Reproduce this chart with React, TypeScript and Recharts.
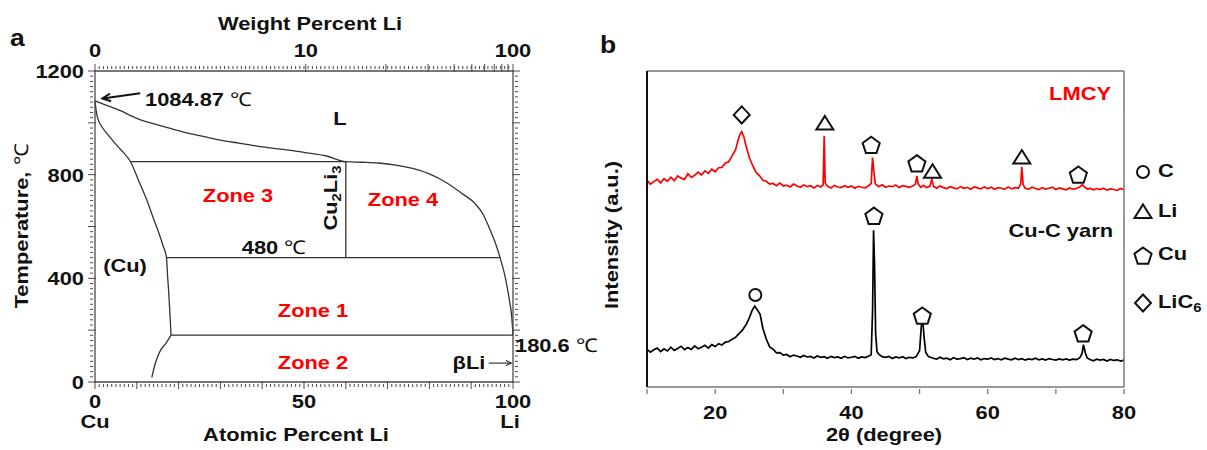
import React from 'react';
import { ComposedChart, Line, XAxis, YAxis, Scatter, ReferenceLine } from 'recharts';

const FONT = '"Liberation Sans", Arial, Helvetica, sans-serif';
const RED = '#ff0000';
const INK = '#111111';
const FRAME = '#4a4a4a';
const SX = 1.15; // lettering in the figure is a little wider than Arial

// ---------- panel a : Cu-Li phase diagram (atomic % Li, temperature in C) ----------
const liquidusAt = [0, 2, 5.8, 10, 16.5, 21, 26.4, 30, 34.7, 40, 46.3, 50, 55.4, 60, 64, 67.8, 72, 76, 80, 84.3, 88, 90.9, 92.8, 94.2, 95.7, 96.9, 98.2, 99.1, 99.7, 100];
const liquidusT = [1084.87, 1072, 1049, 1017, 985, 965, 946, 933, 921, 907, 895, 886, 872, 850, 848, 845, 837, 824, 803, 767, 725, 689, 648, 599, 540, 480, 400, 320, 250, 180.6];
const solvusAt = [0, 0.1, 0.25, 0.7, 1.65, 2.8, 4.1, 5.5, 7.0, 8.5, 10.5, 12.4, 14.0, 15.3, 16.3, 17.1, 17.4, 17.6, 17.9, 18.2];
const solvusT = [1084.87, 1070, 1049, 1015, 985, 960, 934, 908, 882, 850, 775, 702, 630, 574, 525, 480, 400, 355, 270, 180.6];
const lowSolvusAt = [13.6, 14.2, 14.8, 15.7, 17.0, 18.2];
const lowSolvusT = [18, 59, 90, 123, 150, 180.6];
const peritecticAt = [8.5, 60];
const peritecticT = [850, 850];
const cu2li3At = [60, 60];
const cu2li3T = [850, 480];
const eutecticAt = [17.1, 96.9];
const eutecticT = [480, 480];
const monotecticAt = [18.2, 100];
const monotecticT = [180.6, 180.6];

const tempTicks = Array.from({ length: 61 }, (_, i) => i * 20);
const tempLabels = [0, 400, 800, 1200];
const atTicks = Array.from({ length: 101 }, (_, i) => i);
const atLabels = [0, 50, 100];
const wtMajors = [0, 10, 20, 30, 40, 50, 60, 70, 80, 90, 100];
const wtLabels = [0, 10, 100];

// ---------- panel b : XRD patterns (2 theta, intensity a.u.) ----------
const lmcy: [number, number][] = [
  [10, 65.4], [10.5, 64.2], [11, 65.0], [11.5, 65.7], [12, 64.6], [12.5, 65.9], [13, 65.1], [13.5, 66.4], [14, 65.3], [14.5, 66.8],
  [15, 66.1], [15.5, 65.7], [16, 67.5], [16.5, 66.3], [17, 67.0], [17.5, 68.0], [18, 67.1], [18.5, 68.4], [19, 67.6], [19.5, 68.9],
  [20, 68.1], [20.5, 69.4], [21, 69.5], [21.5, 70.9], [22, 71.3], [22.5, 73.2], [23, 75.1], [23.3, 77.6], [23.6, 79.7], [23.9, 80.8],
  [24.2, 79.3], [24.5, 76.6], [25, 72.7], [25.5, 70.1], [26, 67.9], [26.5, 66.9], [27, 65.4], [27.5, 65.1], [28, 64.2], [28.5, 64.4],
  [29, 63.7], [29.5, 64.5], [30, 63.6], [30.5, 63.9], [31, 63.3], [31.5, 64.2], [32, 63.6], [32.5, 63.2], [33, 63.9], [33.5, 63.4],
  [34, 63.7], [34.5, 63.0], [35, 63.8], [35.5, 63.3], [35.85, 64.0], [36.0, 79.4], [36.15, 64.6], [36.5, 63.5], [37, 63.0], [37.5, 63.8],
  [38, 63.3], [38.5, 63.1], [39, 63.7], [39.5, 63.2], [40, 63.6], [40.5, 62.9], [41, 63.5], [41.5, 63.2], [42, 63.0], [42.5, 63.7],
  [42.9, 64.4], [43.1, 72.6], [43.3, 68.0], [43.5, 64.3], [44, 63.4], [44.5, 64.0], [45, 63.2], [45.5, 63.6], [46, 63.4], [46.5, 63.9],
  [47, 63.1], [47.5, 63.7], [48, 63.5], [48.5, 63.2], [49, 63.6], [49.4, 64.2], [49.6, 66.8], [49.8, 64.2], [50.2, 63.2], [50.6, 63.8],
  [51, 63.1], [51.5, 63.5], [51.8, 65.7], [52.05, 63.5], [52.5, 62.9], [53, 63.6], [53.5, 63.1], [54, 62.8], [54.5, 63.4], [55, 63.0],
  [55.5, 62.7], [56, 63.4], [56.5, 62.9], [57, 63.2], [57.5, 62.6], [58, 63.3], [58.5, 63.0], [59, 62.7], [59.5, 63.3], [60, 62.8],
  [60.5, 63.2], [61, 62.6], [61.5, 63.1], [62, 62.9], [62.5, 62.6], [63, 63.3], [63.5, 62.7], [64, 63.1], [64.5, 62.9], [64.85, 64.3],
  [65.0, 69.6], [65.2, 64.0], [65.5, 62.9], [66, 62.6], [66.5, 63.2], [67, 62.8], [67.5, 62.5], [68, 63.1], [68.5, 62.6], [69, 62.9],
  [69.5, 63.2], [70, 62.5], [70.5, 63.0], [71, 62.7], [71.5, 62.4], [72, 63.0], [72.5, 62.6], [73, 62.8], [73.5, 63.3], [73.9, 64.0],
  [74.3, 63.1], [74.7, 62.6], [75, 62.9], [75.5, 62.4], [76, 62.8], [76.5, 62.5], [77, 62.9], [77.5, 62.3], [78, 62.7], [78.5, 62.5],
  [79, 62.2], [79.5, 62.8], [80, 62.4],
];
const cuCYarn: [number, number][] = [
  [10, 11.9], [10.5, 11.0], [11, 11.8], [11.5, 12.3], [12, 11.2], [12.5, 12.1], [13, 11.4], [13.5, 12.6], [14, 11.6], [14.5, 12.2],
  [15, 12.9], [15.5, 11.8], [16, 12.5], [16.5, 11.9], [17, 13.0], [17.5, 12.1], [18, 12.6], [18.5, 13.2], [19, 12.3], [19.5, 13.4],
  [20, 12.8], [20.5, 13.7], [21, 13.3], [21.5, 14.2], [22, 14.4], [22.5, 15.1], [23, 15.7], [23.5, 16.9], [24, 18.0], [24.5, 19.6],
  [25, 21.8], [25.4, 24.1], [25.8, 25.6], [26.2, 24.4], [26.6, 23.0], [27, 18.6], [27.5, 15.2], [28, 12.7], [28.5, 12.0], [29, 10.8],
  [29.5, 10.9], [30, 10.1], [30.5, 10.3], [31, 9.6], [31.5, 10.1], [32, 9.8], [32.5, 9.4], [33, 10.0], [33.5, 9.5], [34, 9.7],
  [34.5, 9.2], [35, 9.8], [35.5, 9.4], [36, 9.6], [36.5, 9.1], [37, 9.7], [37.5, 9.3], [38, 9.5], [38.5, 9.1], [39, 9.7],
  [39.5, 9.2], [40, 9.4], [40.5, 9.7], [41, 9.1], [41.5, 9.5], [42, 9.3], [42.5, 9.7], [42.9, 10.2], [43.1, 24], [43.25, 49.6],
  [43.4, 38], [43.55, 17], [43.75, 11.2], [44, 10.4], [44.5, 9.6], [45, 9.4], [45.5, 9.7], [46, 9.0], [46.5, 9.5], [47, 9.2],
  [47.5, 9.6], [48, 9.0], [48.5, 9.4], [49, 9.2], [49.5, 9.6], [50, 11.5], [50.25, 19], [50.45, 22], [50.65, 16], [50.9, 11],
  [51.3, 9.6], [52, 9.1], [52.5, 8.8], [53, 9.4], [53.5, 8.9], [54, 9.1], [54.5, 8.6], [55, 9.3], [55.5, 8.8], [56, 9.0],
  [56.5, 9.3], [57, 8.7], [57.5, 9.1], [58, 8.8], [58.5, 9.2], [59, 8.6], [59.5, 9.0], [60, 8.8], [60.5, 9.2], [61, 8.7],
  [61.5, 9.0], [62, 8.6], [62.5, 9.1], [63, 8.8], [63.5, 8.6], [64, 9.1], [64.5, 8.7], [65, 9.0], [65.5, 8.5], [66, 8.9],
  [66.5, 8.7], [67, 9.1], [67.5, 8.6], [68, 8.9], [68.5, 8.5], [69, 9.0], [69.5, 8.7], [70, 8.5], [70.5, 8.9], [71, 8.6],
  [71.5, 8.9], [72, 8.5], [72.5, 8.8], [73, 8.7], [73.5, 9.2], [73.85, 10.6], [74.05, 13.4], [74.3, 11.0], [74.6, 9.2], [75, 8.7],
  [75.5, 8.3], [76, 8.8], [76.5, 8.5], [77, 8.7], [77.5, 8.2], [78, 8.7], [78.5, 8.4], [79, 8.6], [79.5, 8.2], [80, 8.5],
];

const lmcyMarkTheta = [23.9, 36.1, 42.9, 49.6, 51.9, 65.0, 73.3];
const lmcyMarkU = [86.1, 83.4, 76.8, 71.0, 68.1, 72.6, 67.4];
const lmcyMarkKind = ['diamond', 'triangle', 'pentagon', 'pentagon', 'triangle', 'triangle', 'pentagon'];
const yarnMarkTheta = [25.9, 43.3, 50.4, 74.0];
const yarnMarkU = [29.1, 54.4, 22.8, 17.2];
const yarnMarkKind = ['circle', 'pentagon', 'pentagon', 'pentagon'];
const xrdTicks = [10, 20, 30, 40, 50, 60, 70, 80];
const xrdLabels = [20, 40, 60, 80];
const legendKinds = ['circle', 'triangle', 'pentagon', 'diamond'];
const legendNames = ['C', 'Li', 'Cu', 'LiC6'];

// ---------- helpers ----------
const wtToAt = (w: number) => {
  if (w <= 0) return 0;
  if (w >= 100) return 100;
  const li = w / 6.941;
  const cu = (100 - w) / 63.546;
  return (100 * li) / (li + cu);
};
const topTicks = [...wtMajors.map(wtToAt), ...atTicks.slice(1, 100)];

const pts = (xs: number[], ys: number[]) => xs.map((at, i) => ({ at, T: ys[i] }));
const xrd = (d: [number, number][]) => d.map(([t, u]) => ({ t, u }));
const marks = (ts: number[], us: number[], ks: string[]) => ts.map((t, i) => ({ t, u: us[i], kind: ks[i] }));

const tickText = (x: number, y: number, s: string, anchor = 'middle') => (
  <text
    transform={`translate(${x},${y}) scale(${SX},1)`}
    textAnchor={anchor}
    dy="0.36em"
    fontFamily={FONT}
    fontWeight={700}
    fontSize={19}
    fill={INK}
  >
    {s}
  </text>
);

const LeftTick = (p: any) => {
  const { x, y, payload } = p;
  const v = payload.value;
  const major = v % 200 === 0;
  return (
    <g>
      <line x1={x - (major ? 5 : 3)} x2={x + (major ? 3 : 0)} y1={y} y2={y} stroke={FRAME} strokeWidth={1} />
      {tempLabels.includes(v) && tickText(x - 9, y, String(v), 'end')}
    </g>
  );
};
const RightTick = (p: any) => {
  const { x, y, payload } = p;
  const major = payload.value % 200 === 0;
  return <line x1={x - (major ? 3 : 0)} x2={x + (major ? 5 : 3)} y1={y} y2={y} stroke={FRAME} strokeWidth={1} />;
};
const BottomTick = (p: any) => {
  const { x, y, payload } = p;
  const v = payload.value;
  const major = v % 10 === 0;
  return (
    <g>
      <line x1={x} x2={x} y1={y - (major ? 3 : 0)} y2={y + (major ? 5 : 3)} stroke={FRAME} strokeWidth={1} />
      {atLabels.includes(v) && tickText(x, y + 17, String(v))}
      {v === 0 && tickText(x, y + 37, 'Cu')}
      {v === 100 && tickText(x - 3, y + 37, 'Li')}
    </g>
  );
};
const TopTick = (p: any) => {
  const { x, y, index } = p;
  if (index < wtMajors.length) {
    const w = wtMajors[index];
    return (
      <g>
        <line x1={x} x2={x} y1={y - 5} y2={y + 3} stroke={FRAME} strokeWidth={1} />
        {wtLabels.includes(w) && tickText(x, y - 19, String(w))}
      </g>
    );
  }
  return <line x1={x} x2={x} y1={y - 3} y2={y} stroke={FRAME} strokeWidth={1} />;
};
const XrdTick = (p: any) => {
  const { x, y, payload } = p;
  const v = payload.value;
  return (
    <g>
      <line x1={x} x2={x} y1={y} y2={y + 5} stroke="#777" strokeWidth={1.3} />
      {xrdLabels.includes(v) && tickText(x, y + 23, String(v))}
    </g>
  );
};

const arrowShape = (head: number, width: number) => (p: any) => {
  const { x1, y1, x2, y2 } = p;
  const a = Math.atan2(y2 - y1, x2 - x1);
  const h1x = x2 - head * Math.cos(a - 0.45);
  const h1y = y2 - head * Math.sin(a - 0.45);
  const h2x = x2 - head * Math.cos(a + 0.45);
  const h2y = y2 - head * Math.sin(a + 0.45);
  return (
    <g>
      <line x1={x1} y1={y1} x2={x2} y2={y2} stroke={INK} strokeWidth={width} />
      <polyline points={`${h1x},${h1y} ${x2},${y2} ${h2x},${h2y}`} fill="none" stroke={INK} strokeWidth={width} />
    </g>
  );
};

const Glyph = ({ kind, cx, cy }: { kind: string; cx: number; cy: number }) => {
  const st = { fill: 'white', stroke: INK, strokeWidth: 2 };
  if (kind === 'circle') return <circle cx={cx} cy={cy} r={6} {...st} />;
  if (kind === 'triangle')
    return <polygon points={`${cx},${cy - 7.5} ${cx + 8.5},${cy + 6} ${cx - 8.5},${cy + 6}`} {...st} />;
  if (kind === 'diamond')
    return <polygon points={`${cx},${cy - 8.5} ${cx + 8},${cy} ${cx},${cy + 8.5} ${cx - 8},${cy}`} {...st} />;
  const r = 9;
  const p = [0, 1, 2, 3, 4]
    .map((k) => {
      const a = (-90 + 72 * k) * (Math.PI / 180);
      return `${cx + r * Math.cos(a)},${cy + 1.5 + r * Math.sin(a)}`;
    })
    .join(' ');
  return <polygon points={p} {...st} />;
};
const markShape = (p: any) => <Glyph kind={p.payload.kind} cx={p.cx} cy={p.cy} />;

type Anchor = 'start' | 'middle' | 'end';
const Txt: React.FC<{
  x: number;
  y: number;
  anchor?: Anchor;
  color?: string;
  size?: number;
  rotate?: number;
  children: React.ReactNode;
}> = ({ x, y, anchor = 'middle', color = INK, size = 19, rotate = 0, children }) => {
  const tx = anchor === 'start' ? '0' : anchor === 'end' ? '-100%' : '-50%';
  const origin = anchor === 'start' ? 'left center' : anchor === 'end' ? 'right center' : 'center';
  return (
    <div
      style={{
        position: 'absolute',
        left: x,
        top: y,
        transform: `translate(${tx},-50%) rotate(${rotate}deg) scaleX(${SX})`,
        transformOrigin: origin,
        fontFamily: FONT,
        fontWeight: 700,
        fontSize: size,
        color,
        whiteSpace: 'nowrap',
        lineHeight: 1,
      }}
    >
      {children}
    </div>
  );
};
const Deg = () => <span style={{ fontWeight: 400 }}>℃</span>;
const Sub = ({ children }: { children: React.ReactNode }) => (
  <span style={{ fontSize: '0.68em', position: 'relative', top: '0.3em' }}>{children}</span>
);

const boundary = { dot: false, stroke: '#333', strokeWidth: 1.3, isAnimationActive: false } as const;

const PhaseDiagram = () => (
  <div style={{ position: 'absolute', left: 0, top: 0 }}>
    <ComposedChart width={560} height={450} margin={{ top: 70, right: 46, bottom: 67, left: 94 }}>
      <XAxis xAxisId="at" dataKey="at" type="number" domain={[0, 100]} ticks={atTicks} interval={0}
        height={1} tickSize={0} tickLine={false} tick={BottomTick} axisLine={{ stroke: FRAME, strokeWidth: 1.3 }} />
      <XAxis xAxisId="wt" dataKey="at" orientation="top" type="number" domain={[0, 100]} ticks={topTicks} interval={0}
        height={1} tickSize={0} tickLine={false} tick={TopTick} axisLine={{ stroke: FRAME, strokeWidth: 1.3 }} />
      <YAxis yAxisId="T" dataKey="T" type="number" domain={[0, 1200]} ticks={tempTicks} interval={0}
        width={1} tickSize={0} tickLine={false} tick={LeftTick} axisLine={{ stroke: FRAME, strokeWidth: 1.3 }} />
      <YAxis yAxisId="Tr" dataKey="T" orientation="right" type="number" domain={[0, 1200]} ticks={tempTicks} interval={0}
        width={1} tickSize={0} tickLine={false} tick={RightTick} axisLine={{ stroke: FRAME, strokeWidth: 1.3 }} />
      <Line {...boundary} xAxisId="at" yAxisId="T" data={pts(liquidusAt, liquidusT)} dataKey="T" type="monotone" />
      <Line {...boundary} xAxisId="at" yAxisId="T" data={pts(solvusAt, solvusT)} dataKey="T" type="monotone" />
      <Line {...boundary} xAxisId="at" yAxisId="T" data={pts(lowSolvusAt, lowSolvusT)} dataKey="T" type="monotone" />
      <Line {...boundary} xAxisId="at" yAxisId="T" data={pts(peritecticAt, peritecticT)} dataKey="T" type="linear" />
      <Line {...boundary} xAxisId="at" yAxisId="T" data={pts(cu2li3At, cu2li3T)} dataKey="T" type="linear" />
      <Line {...boundary} xAxisId="wt" yAxisId="Tr" data={pts(eutecticAt, eutecticT)} dataKey="T" type="linear" />
      <Line {...boundary} xAxisId="wt" yAxisId="Tr" data={pts(monotecticAt, monotecticT)} dataKey="T" type="linear" />
      <ReferenceLine xAxisId="at" yAxisId="T" segment={[{ x: 10.8, y: 1114 }, { x: 1.8, y: 1094 }]}
        shape={arrowShape(9, 2)} ifOverflow="visible" />
      <ReferenceLine xAxisId="at" yAxisId="T" segment={[{ x: 94.2, y: 73 }, { x: 99.6, y: 73 }]}
        shape={arrowShape(6, 1)} ifOverflow="visible" />
    </ComposedChart>
  </div>
);

const XrdChart = () => (
  <div style={{ position: 'absolute', left: 560, top: 0 }}>
    <ComposedChart width={647} height={450} margin={{ top: 70, right: 82, bottom: 62, left: 86 }}>
      <XAxis xAxisId="b" dataKey="t" type="number" domain={[10, 80]} ticks={xrdTicks} interval={0}
        height={1} tickSize={0} tickLine={false} tick={XrdTick} axisLine={{ stroke: '#777', strokeWidth: 1.5 }} />
      <XAxis xAxisId="top" dataKey="t" orientation="top" type="number" domain={[10, 80]} height={1} tick={false}
        tickLine={false} axisLine={{ stroke: '#777', strokeWidth: 1.5 }} />
      <YAxis yAxisId="l" dataKey="u" type="number" domain={[0, 100]} width={1} tick={false} tickLine={false}
        axisLine={{ stroke: '#111', strokeWidth: 2 }} />
      <YAxis yAxisId="r" dataKey="u" orientation="right" type="number" domain={[0, 100]} width={1} tick={false}
        tickLine={false} axisLine={{ stroke: '#777', strokeWidth: 1.5 }} />
      <Line xAxisId="b" yAxisId="l" data={xrd(cuCYarn)} dataKey="u" type="linear" dot={false}
        stroke="#000" strokeWidth={1.7} isAnimationActive={false} />
      <Line xAxisId="top" yAxisId="r" data={xrd(lmcy)} dataKey="u" type="linear" dot={false}
        stroke={RED} strokeWidth={1.7} isAnimationActive={false} />
      <Scatter xAxisId="b" yAxisId="l" data={marks(lmcyMarkTheta, lmcyMarkU, lmcyMarkKind)} dataKey="u"
        shape={markShape} isAnimationActive={false} />
      <Scatter xAxisId="b" yAxisId="l" data={marks(yarnMarkTheta, yarnMarkU, yarnMarkKind)} dataKey="u"
        shape={markShape} isAnimationActive={false} />
    </ComposedChart>
  </div>
);

const legendRows = [172, 212, 255, 303];

export default function App() {
  return (
    <div style={{ position: 'absolute', left: 0, top: 0, width: 1207, height: 450, background: '#fff', overflow: 'hidden' }}>
      <PhaseDiagram />
      <XrdChart />

      {/* panel a text */}
      <Txt x={10} y={38} anchor="start" size={23}>a</Txt>
      <Txt x={310} y={23}>Weight Percent Li</Txt>
      <Txt x={21} y={226} rotate={-90}>Temperature, <Deg /></Txt>
      <Txt x={296} y={434}>Atomic Percent Li</Txt>
      <Txt x={145} y={99} anchor="start">1084.87 <Deg /></Txt>
      <Txt x={340} y={118}>L</Txt>
      <Txt x={238} y={195} color={RED}>Zone 3</Txt>
      <Txt x={403} y={199} color={RED}>Zone 4</Txt>
      <Txt x={313} y={310} color={RED}>Zone 1</Txt>
      <Txt x={313} y={362} color={RED}>Zone 2</Txt>
      <Txt x={330} y={198} rotate={-90}>Cu<Sub>2</Sub>Li<Sub>3</Sub></Txt>
      <Txt x={274} y={247}>480 <Deg /></Txt>
      <Txt x={125} y={265}>(Cu)</Txt>
      <Txt x={469} y={362}>βLi</Txt>
      <Txt x={515} y={345} anchor="start">180.6 <Deg /></Txt>

      {/* panel b text */}
      <Txt x={600} y={45} anchor="start" size={23}>b</Txt>
      <Txt x={1111} y={93} anchor="end" color={RED}>LMCY</Txt>
      <Txt x={1113} y={230} anchor="end">Cu-C yarn</Txt>
      <Txt x={611} y={235} rotate={-90}>Intensity (a.u.)</Txt>
      <Txt x={884} y={434}>2θ (degree)</Txt>

      {/* panel b legend */}
      <svg style={{ position: 'absolute', left: 1125, top: 150 }} width={36} height={175}>
        {legendKinds.map((k, i) => (
          <Glyph key={k} kind={k} cx={18} cy={legendRows[i] - 150} />
        ))}
      </svg>
      {legendNames.map((n, i) => (
        <Txt key={n} x={1158} y={legendRows[i] - 2} anchor="start">
          {n === 'LiC6' ? (<>LiC<Sub>6</Sub></>) : n}
        </Txt>
      ))}
    </div>
  );
}
